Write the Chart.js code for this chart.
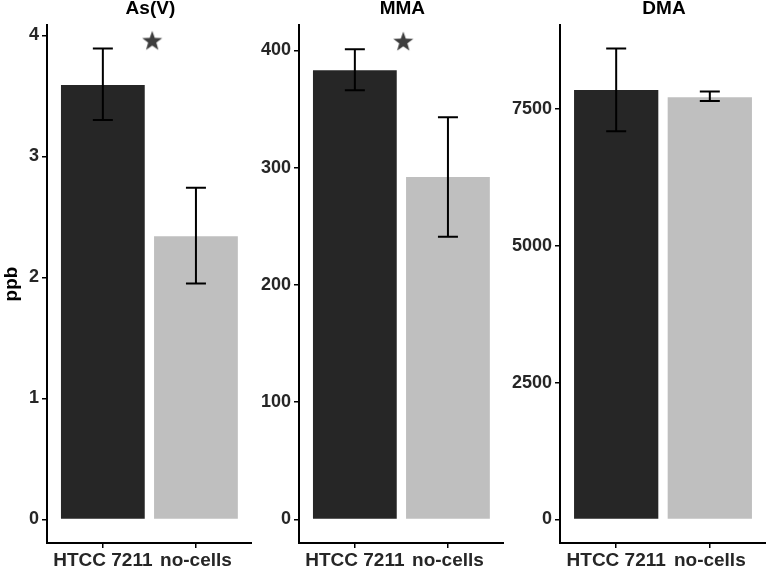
<!DOCTYPE html>
<html>
<head>
<meta charset="utf-8">
<script src="https://cdn.jsdelivr.net/npm/chart.js@4.4.1/dist/chart.umd.min.js"></script>
<style>
    html, body { margin: 0; padding: 0; background: #fff; }
    #wrap { position: relative; width: 766px; height: 568px; }
    #wrap canvas { position: absolute; top: 0; }
</style>
</head>
<body>
<div id="wrap">
    <canvas id="asvChart" width="252" height="568" style="left:0px"></canvas>
    <canvas id="mmaChart" width="252" height="568" style="left:252px"></canvas>
    <canvas id="dmaChart" width="262" height="568" style="left:504px"></canvas>
</div>
<script>
// ===================================
// Data
// ===================================
const categories = ['HTCC 7211', 'no-cells'];

const asvMeans = [3.59, 2.34];
const asvLow = [3.30, 1.95];
const asvHigh = [3.89, 2.74];
const asvTicks = [0, 1, 2, 3, 4];
const asvStars = [{ x: 1.53, y: 3.95 }];

const mmaMeans = [383, 292];
const mmaLow = [366, 241];
const mmaHigh = [401, 343];
const mmaTicks = [0, 100, 200, 300, 400];
const mmaStars = [{ x: 1.52, y: 407 }];

const dmaMeans = [7845, 7710];
const dmaLow = [7090, 7640];
const dmaHigh = [8600, 7815];
const dmaTicks = [0, 2500, 5000, 7500];
const dmaStars = [];

const barColors = ['#262626', '#bfbfbf'];
const FONT = "'Liberation Sans', Arial, Helvetica, sans-serif";

// Filled star used as point style
function makeStar() {
    const c = document.createElement('canvas');
    c.width = 24;
    c.height = 24;
    const g = c.getContext('2d');
    g.fillStyle = '#3d3d3d';
    g.beginPath();
    for (let i = 0; i < 10; i++) {
        const r = i % 2 === 0 ? 10.5 : 4.3;
        const a = -Math.PI / 2 + i * Math.PI / 5;
        const px = 12 + r * Math.cos(a);
        const py = 12 + r * Math.sin(a);
        if (i === 0) g.moveTo(px, py); else g.lineTo(px, py);
    }
    g.closePath();
    g.fill();
    return c;
}
const starImage = makeStar();

// Error bar plugin
const errorBarPlugin = {
    id: 'errorBars',
    afterDatasetsDraw(chart, args, opts) {
        const ctx = chart.ctx;
        const xs = chart.scales.x;
        const ys = chart.scales.y;
        ctx.save();
        ctx.strokeStyle = '#000';
        ctx.lineWidth = 2;
        opts.low.forEach((lo, i) => {
            const px = xs.getPixelForValue(i + 1);
            const yLo = ys.getPixelForValue(lo);
            const yHi = ys.getPixelForValue(opts.high[i]);
            ctx.beginPath();
            ctx.moveTo(px, yLo);
            ctx.lineTo(px, yHi);
            ctx.moveTo(px - 10, yLo);
            ctx.lineTo(px + 10, yLo);
            ctx.moveTo(px - 10, yHi);
            ctx.lineTo(px + 10, yHi);
            ctx.stroke();
        });
        ctx.restore();
    }
};

// Panel title centred over the plot area
const panelTitlePlugin = {
    id: 'panelTitle',
    afterDraw(chart, args, opts) {
        const ctx = chart.ctx;
        const area = chart.chartArea;
        ctx.save();
        ctx.fillStyle = '#000';
        ctx.font = 'bold 19px ' + FONT;
        ctx.textAlign = 'center';
        ctx.textBaseline = 'middle';
        ctx.fillText(opts.text, (area.left + area.right) / 2 + 1, 9);
        ctx.restore();
    }
};

function buildPanel(canvasId, title, means, low, high, ticks, stars, yMin, yMax, axisWidth, showYTitle) {
    new Chart(document.getElementById(canvasId), {
        type: 'bar',
        data: {
            datasets: [{
                data: categories.map((c, i) => ({ x: i + 1, y: means[i] })),
                backgroundColor: barColors,
                borderWidth: 0,
                grouped: false,
                barPercentage: 0.9,
                categoryPercentage: 1
            }, {
                type: 'scatter',
                data: stars,
                pointStyle: starImage,
                pointRadius: 0.2,
                pointHoverRadius: 0,
                pointBorderWidth: 0,
                borderWidth: 0
            }]
        },
        options: {
            responsive: false,
            animation: false,
            layout: { padding: { top: 25, right: 0, bottom: 0, left: 0 } },
            plugins: {
                legend: { display: false },
                tooltip: { enabled: false },
                title: { display: false },
                panelTitle: { text: title },
                errorBars: { low: low, high: high }
            },
            scales: {
                x: {
                    type: 'linear',
                    offset: false,
                    min: 0.4,
                    max: 2.6,
                    afterBuildTicks: scale => {
                        scale.ticks = categories.map((c, i) => ({ value: i + 1 }));
                    },
                    afterFit: scale => { scale.height = 25; },
                    ticks: {
                        callback: value => categories[value - 1],
                        color: '#262626',
                        font: { family: FONT, size: 19, weight: 'bold' },
                        padding: 1,
                        maxRotation: 0,
                        autoSkip: false
                    },
                    grid: { offset: false, drawOnChartArea: false, tickLength: 5, color: '#000', lineWidth: 1.5 },
                    border: { color: '#000', width: 2 }
                },
                y: {
                    min: yMin,
                    max: yMax,
                    afterBuildTicks: scale => {
                        scale.ticks = ticks.map(v => ({ value: v }));
                    },
                    afterFit: scale => { scale.width = axisWidth; },
                    ticks: {
                        callback: value => String(value),
                        color: '#262626',
                        font: { family: FONT, size: 18, weight: 'bold' },
                        padding: 3
                    },
                    grid: { drawOnChartArea: false, tickLength: 5, color: '#000', lineWidth: 1.5 },
                    border: { color: '#000', width: 2 },
                    title: {
                        display: showYTitle,
                        text: 'ppb',
                        color: '#000',
                        font: { family: FONT, size: 19, weight: 'bold' },
                        padding: { top: 0, bottom: 0 }
                    }
                }
            }
        },
        plugins: [errorBarPlugin, panelTitlePlugin]
    });
}

buildPanel('asvChart', 'As(V)', asvMeans, asvLow, asvHigh, asvTicks, asvStars, -0.195, 4.085, 47, true);
buildPanel('mmaChart', 'MMA', mmaMeans, mmaLow, mmaHigh, mmaTicks, mmaStars, -20.1, 421.6, 47, false);
buildPanel('dmaChart', 'DMA', dmaMeans, dmaLow, dmaHigh, dmaTicks, dmaStars, -430, 9030, 56, false);
</script>
</body>
</html>
